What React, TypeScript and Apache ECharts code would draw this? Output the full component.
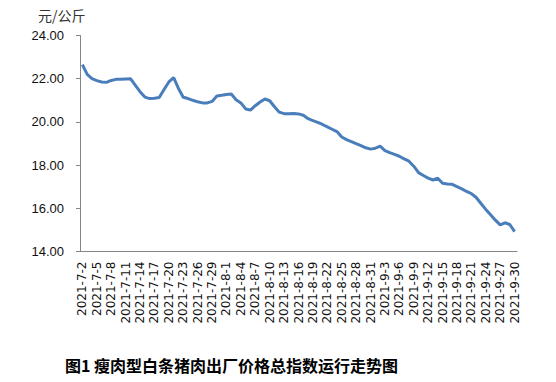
import React, { useEffect, useRef } from "react";
import * as echarts from "echarts";

const startDate = { year: 2021, month: 7, day: 2 };
const dayCount = 91;

const categories: string[] = (() => {
  const out: string[] = [];
  const d = new Date(startDate.year, startDate.month - 1, startDate.day);
  for (let i = 0; i < dayCount; i++) {
    out.push(`${d.getFullYear()}-${d.getMonth() + 1}-${d.getDate()}`);
    d.setDate(d.getDate() + 1);
  }
  return out;
})();

const julyValues = [
  22.65, 22.2, 22.0, 21.91, 21.85, 21.83, 21.92, 21.97, 21.98, 21.99,
  22.0, 21.7, 21.4, 21.15, 21.08, 21.1, 21.13, 21.5, 21.85, 22.05,
  21.55, 21.14, 21.08, 21.0, 20.93, 20.88, 20.88, 20.95, 21.2, 21.23,
];
const augustValues = [
  21.27, 21.29, 21.03, 20.88, 20.6, 20.55, 20.75, 20.92, 21.06, 20.98,
  20.7, 20.45, 20.38, 20.38, 20.39, 20.37, 20.31, 20.15, 20.06, 19.98,
  19.88, 19.77, 19.66, 19.55, 19.3, 19.18, 19.09, 18.99, 18.9, 18.8,
  18.74,
];
const septemberValues = [
  18.78, 18.88, 18.67, 18.58, 18.5, 18.41, 18.29, 18.18, 17.95, 17.65,
  17.52, 17.4, 17.31, 17.39, 17.16, 17.13, 17.11, 17.0, 16.9, 16.78,
  16.68, 16.5, 16.22, 15.95, 15.7, 15.45, 15.23, 15.33, 15.25, 14.92,
];
const priceValues = [...julyValues, ...augustValues, ...septemberValues];

const unitLabel = "元/公斤";
const titleText = "图1 瘦肉型白条猪肉出厂价格总指数运行走势图";

export default function App() {
  const ref = useRef<HTMLDivElement>(null);
  useEffect(() => {
    document.body.style.margin = "0";
    if (!ref.current) return;
    const chart = echarts.init(ref.current, undefined, { renderer: "svg" });
    chart.setOption({
      animation: false,
      backgroundColor: "#ffffff",
      grid: { left: 80, right: 39, top: 35.5, bottom: 130.5 },
      xAxis: {
        type: "category",
        data: categories,
        boundaryGap: true,
        axisLine: { lineStyle: { color: "#868686", width: 1 } },
        axisTick: { interval: 2, length: 4, lineStyle: { color: "#868686" } },
        axisLabel: {
          interval: 2,
          rotate: 90,
          margin: 10,
          fontFamily: "DejaVu Sans",
          fontSize: 12,
          color: "#111",
        },
        splitLine: { show: false },
      },
      yAxis: {
        type: "value",
        min: 14,
        max: 24,
        interval: 2,
        axisLine: { show: true, lineStyle: { color: "#868686", width: 1 } },
        axisTick: { show: true, length: 4, lineStyle: { color: "#868686" } },
        axisLabel: {
          formatter: (v: number) => v.toFixed(2),
          margin: 16,
          fontFamily: "Liberation Sans",
          fontSize: 13,
          color: "#111",
        },
        splitLine: { show: false },
      },
      series: [
        {
          type: "line",
          data: priceValues,
          showSymbol: false,
          symbol: "none",
          lineStyle: { color: "#4a7ebb", width: 3 },
        },
      ],
      graphic: [
        {
          type: "text",
          left: 38,
          top: 8,
          style: {
            text: unitLabel,
            font: "14px 'Noto Sans CJK SC'",
            fill: "#333",
          },
        },
        {
          type: "text",
          left: 65,
          top: 357,
          style: {
            text: titleText,
            font: "bold 16px 'Noto Sans CJK SC'",
            fill: "#000",
          },
        },
      ],
    });
    return () => chart.dispose();
  }, []);
  return <div ref={ref} style={{ width: 556, height: 382 }} />;
}
